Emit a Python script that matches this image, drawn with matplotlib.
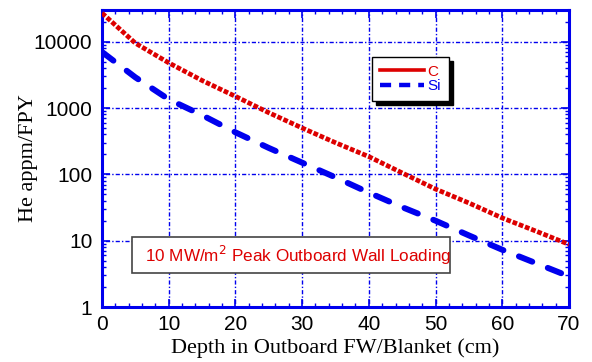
import matplotlib
matplotlib.use("Agg")
import matplotlib.pyplot as plt
from matplotlib.patches import Rectangle
from matplotlib.lines import Line2D
from matplotlib.ticker import MultipleLocator, LogLocator, NullFormatter, FixedLocator, FixedFormatter

depth = [0, 5, 10, 15, 20, 25, 30, 35, 40, 45, 50, 55, 60, 65, 70]
he_c = [27000, 9500, 4800, 2600, 1500, 850, 500, 300, 185, 105, 60, 37, 22, 14, 8.8]
he_si = [7000, 2900, 1350, 780, 430, 250, 150, 90, 53, 32, 20, 12, 7.3, 4.6, 2.9]
yticks = [1, 10, 100, 1000, 10000]
ytick_labels = ["1", "10", "100", "1000", "10000"]
xticks = [0, 10, 20, 30, 40, 50, 60, 70]

blue = "#0000ee"
red = "#dd0000"
sans = ["Liberation Sans", "DejaVu Sans"]
serif = ["Liberation Serif", "DejaVu Serif"]

fig = plt.figure(figsize=(5.92, 3.62), dpi=100)
ax = fig.add_axes([0.1723, 0.1519, 0.7888, 0.8204])

ax.plot(depth, he_c, color=red, lw=3.4, linestyle=(0, (1.0, 0.4)), zorder=3)
ax.plot(depth, he_si, color=blue, lw=4.3, linestyle=(0, (2.4, 2.8)), dash_capstyle="round",
        zorder=3)

ax.set_yscale("log")
ax.set_xlim(0, 70)
ax.set_ylim(1, 30000)

ax.xaxis.set_major_locator(FixedLocator(xticks))
ax.xaxis.set_minor_locator(MultipleLocator(2))
ax.yaxis.set_major_locator(FixedLocator(yticks))
ax.yaxis.set_major_formatter(FixedFormatter(ytick_labels))
ax.yaxis.set_minor_locator(LogLocator(base=10, subs=range(2, 10)))
ax.yaxis.set_minor_formatter(NullFormatter())

for s in ax.spines.values():
    s.set_color(blue)
    s.set_linewidth(2.2)

ax.tick_params(which="both", direction="in", top=True, right=True, color=blue,
               labelsize=15, labelcolor="black")
ax.tick_params(which="major", length=6, width=1.2)
ax.tick_params(axis="y", which="major", pad=7)
ax.tick_params(axis="x", which="major", pad=6)
ax.tick_params(which="minor", length=3, width=1)
for lab in ax.get_xticklabels() + ax.get_yticklabels():
    lab.set_family(sans)

ax.grid(True, which="major", color=blue, linestyle=(0, (1, 1.5, 3, 1.5)), lw=1)

ax.set_xlabel("Depth in Outboard FW/Blanket (cm)", family=serif, fontsize=16, labelpad=3)
ax.set_ylabel("He appm/FPY", family=serif, fontsize=16, labelpad=-3)

handles = [Line2D([], [], color=red, lw=2.6),
           Line2D([], [], color=blue, lw=3.2, linestyle=(0, (2.5, 1.8)))]
leg = ax.legend(handles, ["C", "Si"], loc="upper left", bbox_to_anchor=(0.578, 0.842),
                frameon=True, fancybox=False,
                shadow={"color": "black", "alpha": 1, "ox": 3, "oy": -3}, fontsize=11,
                handlelength=2.9, handletextpad=0.25, borderpad=0.5, labelspacing=0.05,
                borderaxespad=0)
leg.get_frame().set_edgecolor("black")
leg.get_frame().set_linewidth(1)
for t, c in zip(leg.get_texts(), [red, blue]):
    t.set_color(c)
    t.set_family(sans)

box = Rectangle((0.064, 0.1145), 0.681, 0.1212, transform=ax.transAxes, fc="white",
                ec="#444444", lw=1.2, zorder=5)
ax.add_patch(box)
ax.text(0.092, 0.175, "10 MW/m$^2$ Peak Outboard Wall Loading", transform=ax.transAxes,
        fontsize=12.3, color=red, family=sans, va="center", zorder=6)

fig.savefig("out.png", dpi=100)
